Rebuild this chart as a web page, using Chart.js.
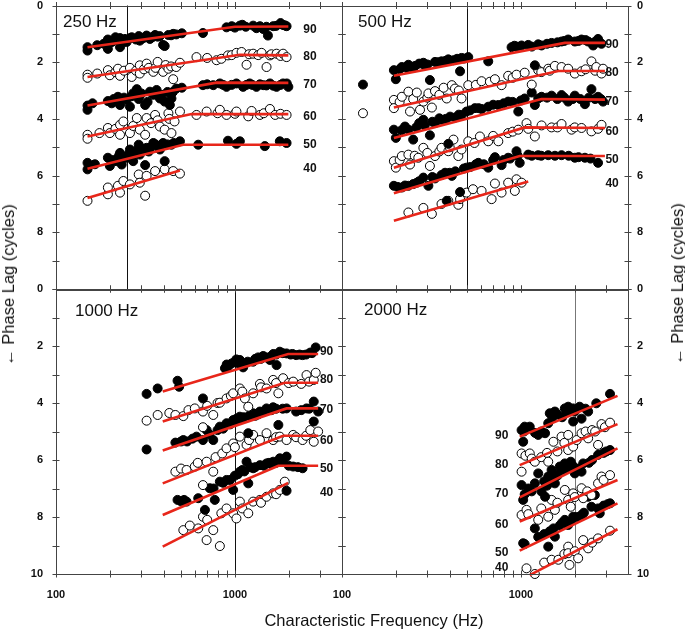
<!DOCTYPE html>
<html>
<head>
<meta charset="utf-8">
<script src="https://cdn.jsdelivr.net/npm/chart.js@4.4.1/dist/chart.umd.min.js"></script>
<style>
  body { margin: 0; background: #fff; }
  #wrap { position: relative; width: 685px; height: 630px; font-family: "Liberation Sans", Arial, sans-serif; color: #111; }
  canvas { position: absolute; left: 0; top: 0; }
  .ptitle { position: absolute; font-size: 17px; line-height: 20px; white-space: nowrap; }
  .atitle { position: absolute; font-size: 16.5px; line-height: 18px; white-space: nowrap; transform: translate(-50%, -50%); }
  .rot { transform: translate(-50%, -50%) rotate(-90deg); }
</style>
</head>
<body>
<div id="wrap">
  <canvas id="c250" width="685" height="630"></canvas>
  <canvas id="c500" width="685" height="630"></canvas>
  <canvas id="c1000" width="685" height="630"></canvas>
  <canvas id="c2000" width="685" height="630"></canvas>
  <div class="ptitle" style="left:63px;top:12px">250 Hz</div>
  <div class="ptitle" style="left:358px;top:12px">500 Hz</div>
  <div class="ptitle" style="left:75px;top:301px">1000 Hz</div>
  <div class="ptitle" style="left:364px;top:300px">2000 Hz</div>
  <div class="atitle" style="left:374px;top:620px">Characteristic Frequency (Hz)</div>
  <div class="atitle rot" style="left:8px;top:285px">← Phase Lag (cycles)</div>
  <div class="atitle rot" style="left:677px;top:284px">← Phase Lag (cycles)</div>
</div>
<script>
// -------- AXES -------- //
const xTicks = [100, 200, 300, 400, 500, 600, 700, 800, 900, 1000, 2000, 3000];
const xLabels = [100, 1000];
const levels = ['90', '80', '70', '60', '50', '40'];

// -------- 250 Hz PANEL -------- //  [frequency Hz, phase lag cycles]
const pts250_90 = [[150,1.47],[150,1.59],[170,1.4],[185,1.35],[195,1.2],[195,1.53],[205,1.29],[215,1.12],[228,1.15],[228,1.47],[243,1.18],[248,1.29],[260,1.15],[265,1.12],[280,1.2],[290,1.08],[294,1.24],[300,1.18],[310,1.14],[321,1.06],[335,1.18],[345,1.12],[358,1.04],[370,1.1],[380,1.08],[397,1.39],[405,1.43],[425,1.04],[440,1.05],[452,1.0],[470,1.02],[505,0.98],[663,0.97],[898,0.77],[960,0.73],[1000,0.78],[1066,0.71],[1100,0.68],[1150,0.75],[1265,0.71],[1320,0.8],[1380,0.73],[1440,0.83],[1500,0.75],[1530,1.06],[1637,0.73],[1700,0.72],[1800,0.62],[1860,0.69],[1900,0.7],[1945,0.73]];
const pts250_80 = [[150,2.44],[150,2.55],[170,2.4],[195,2.28],[200,2.46],[215,2.35],[222,2.23],[228,2.48],[240,2.3],[259,2.2],[265,2.52],[280,2.3],[294,2.11],[294,2.4],[310,2.25],[321,2.05],[330,2.2],[350,2.34],[360,2.2],[370,1.99],[397,2.34],[410,2.1],[425,2.23],[440,2.15],[452,2.6],[470,2.17],[493,2.02],[610,1.82],[700,1.85],[790,1.93],[840,1.88],[915,1.76],[960,1.75],[1020,1.67],[1090,1.64],[1162,2.09],[1200,1.72],[1265,1.7],[1350,1.75],[1410,1.67],[1503,2.17],[1570,1.76],[1600,1.72],[1710,1.7],[1800,1.78],[1860,1.7],[1945,1.82]];
const pts250_70 = [[150,3.53],[150,3.68],[160,3.45],[195,3.37],[205,3.45],[210,3.3],[222,3.22],[228,3.51],[240,3.25],[248,3.33],[259,3.57],[265,3.2],[270,3.1],[283,2.95],[290,3.3],[294,3.18],[300,3.1],[315,3.51],[325,3.4],[335,3.04],[350,3.15],[365,2.98],[381,3.28],[390,3.15],[405,3.39],[420,3.05],[433,3.51],[442,3.28],[450,3.05],[470,2.93],[505,2.9],[663,2.81],[700,2.78],[757,2.81],[824,2.75],[860,2.8],[898,2.87],[960,2.8],[1020,2.75],[1112,2.87],[1160,2.8],[1210,2.75],[1250,2.8],[1320,2.87],[1380,2.78],[1440,2.81],[1500,2.82],[1570,2.75],[1640,2.83],[1710,2.87],[1800,2.8],[1860,2.75],[1950,2.75],[1990,2.87]];
const pts250_60 = [[150,4.56],[150,4.7],[175,4.5],[195,4.32],[200,4.5],[215,4.35],[228,4.21],[228,4.56],[238,4.09],[259,4.5],[270,4.25],[283,3.97],[294,4.38],[315,4.56],[321,3.97],[340,4.15],[358,3.86],[370,4.05],[381,4.27],[405,4.38],[425,3.8],[430,4.0],[442,4.5],[460,4.09],[493,3.74],[610,3.86],[695,3.74],[800,3.8],[824,3.68],[898,3.86],[1000,3.82],[1020,3.74],[1188,3.91],[1240,3.72],[1380,3.86],[1450,3.8],[1570,3.65],[1680,3.86],[1800,3.82],[1945,3.86]];
const pts250_50 = [[150,5.55],[150,5.78],[165,5.6],[195,5.37],[200,5.66],[210,5.45],[217,5.49],[225,5.3],[228,5.2],[233,5.61],[240,5.35],[248,5.37],[255,5.25],[259,5.08],[262,5.35],[270,5.49],[275,5.2],[285,5.1],[290,4.91],[294,5.26],[305,5.05],[315,5.63],[321,5.02],[330,5.15],[340,5.0],[350,4.85],[360,4.9],[370,4.95],[381,5.08],[397,4.85],[405,5.49],[420,4.9],[442,4.91],[455,4.85],[493,4.79],[624,4.91],[915,4.77],[1020,4.88],[1066,4.79],[1470,4.96],[1783,4.79],[1945,4.85]];
const pts250_40 = [[150,6.89],[195,6.66],[195,6.42],[222,6.36],[228,6.6],[238,6.19],[259,6.31],[290,5.96],[294,6.25],[315,6.71],[321,6.01],[358,5.84],[405,5.78],[452,5.84],[493,5.93]];
const fit250_90 = [[150,1.47],[1000,0.75],[1990,0.74]];
const fit250_80 = [[150,2.52],[1066,1.74],[1990,1.76]];
const fit250_70 = [[150,3.53],[790,2.72],[1990,2.73]];
const fit250_60 = [[150,4.62],[573,3.83],[1990,3.83]];
const fit250_50 = [[150,5.76],[514,4.91],[1990,4.91]];
const fit250_40 = [[150,6.79],[493,5.82]];
const labelF250 = 2630;
const labelLag250 = [0.84, 1.82, 2.8, 3.92, 4.9, 5.77];

// -------- 500 Hz PANEL -------- //
const pts500_90 = [[131,2.79],[195,2.28],[200,2.6],[210,2.25],[216,2.17],[230,2.2],[235,2.09],[250,2.2],[256,2.13],[270,2.05],[285,2.02],[290,2.11],[300,2.08],[310,2.63],[331,1.99],[345,2.0],[360,1.97],[380,1.95],[393,1.9],[420,1.93],[440,1.88],[457,2.32],[466,1.85],[480,1.87],[508,1.82],[657,1.97],[887,1.47],[920,1.42],[950,1.45],[1009,1.41],[1099,1.39],[1150,1.45],[1197,2.11],[1250,1.37],[1305,1.41],[1400,1.35],[1485,1.32],[1600,1.3],[1688,1.27],[1750,1.25],[1838,1.2],[2003,1.27],[2100,1.25],[2183,1.2],[2300,1.22],[2377,1.27],[2535,1.41],[2600,1.28],[2700,1.18],[2750,1.3],[2823,1.35]];
const pts500_80 = [[131,3.8],[195,3.33],[195,3.62],[210,3.4],[216,3.22],[235,3.04],[240,3.74],[250,3.3],[262,3.07],[273,3.68],[285,3.39],[300,3.25],[304,3.1],[318,3.6],[331,3.02],[350,3.15],[370,2.9],[385,3.28],[411,2.81],[428,2.93],[450,3.0],[466,3.28],[508,2.81],[560,2.8],[603,2.67],[671,2.69],[716,2.6],[780,2.81],[849,2.48],[900,2.55],[945,2.44],[1050,2.37],[1150,2.79],[1250,2.28],[1300,2.35],[1422,2.23],[1450,2.3],[1549,2.13],[1688,2.17],[1838,2.23],[2003,2.4],[2183,2.32],[2300,2.25],[2480,1.97],[2600,2.3],[2640,2.17],[2823,2.4],[2880,2.23]];
const pts500_70 = [[195,4.38],[200,4.67],[215,4.4],[225,4.27],[235,4.38],[250,4.73],[260,4.3],[270,4.15],[285,4.03],[290,4.23],[310,4.58],[320,4.1],[331,4.15],[350,3.98],[360,4.03],[380,4.0],[393,4.88],[402,3.92],[430,3.95],[450,3.85],[466,3.86],[497,3.74],[520,3.7],[553,3.62],[580,3.62],[603,3.65],[657,3.57],[700,3.5],[748,3.51],[800,3.45],[849,3.39],[900,3.4],[967,3.74],[1000,3.35],[1050,3.28],[1150,3.07],[1197,3.51],[1250,3.28],[1305,3.22],[1400,3.25],[1485,3.18],[1600,3.3],[1688,3.16],[1750,3.25],[1838,3.39],[1950,3.3],[2003,3.18],[2150,3.3],[2280,3.48],[2400,3.25],[2480,2.95],[2600,3.3],[2700,3.22],[2800,3.3],[2880,3.39]];
const pts500_60 = [[195,5.49],[200,5.72],[210,5.45],[216,5.31],[235,5.26],[240,5.61],[255,5.3],[267,5.37],[285,5.02],[300,5.2],[310,5.66],[331,5.31],[350,5.15],[360,5.02],[393,5.14],[400,5.0],[420,4.73],[447,5.31],[466,5.08],[508,4.79],[550,4.85],[590,4.62],[657,4.79],[700,4.6],[748,4.79],[849,4.5],[900,4.45],[967,4.38],[1075,4.15],[1100,4.35],[1197,4.62],[1305,4.23],[1485,4.3],[1600,4.3],[1688,4.18],[1920,4.38],[2000,4.3],[2183,4.32],[2480,4.44],[2700,4.35],[2823,4.21]];
const pts500_50 = [[195,6.36],[205,6.4],[216,6.42],[225,6.35],[235,6.36],[250,6.3],[262,6.25],[270,6.2],[285,6.07],[304,6.36],[320,6.05],[331,6.1],[360,5.98],[377,5.9],[385,6.89],[400,5.9],[411,6.01],[430,5.85],[457,6.58],[480,5.75],[497,5.72],[520,5.7],[560,5.6],[578,5.55],[620,5.6],[657,5.72],[700,5.45],[716,5.35],[780,5.63],[800,5.45],[849,5.37],[870,5.4],[945,5.14],[960,5.3],[985,5.55],[1099,5.26],[1150,5.3],[1250,5.28],[1300,5.3],[1422,5.28],[1550,5.3],[1688,5.28],[1850,5.3],[2003,5.37],[2100,5.35],[2280,5.37],[2450,5.4],[2700,5.55]];
const pts500_40 = [[235,7.3],[285,7.14],[318,7.35],[360,7.0],[393,6.89],[447,7.03],[457,6.83],[497,6.6],[540,6.48],[603,6.54],[686,6.83],[716,6.28],[780,6.6],[849,6.25],[925,6.54],[945,6.13],[1009,6.25]];
const fit500_90 = [[195,2.48],[1760,1.32],[2950,1.32]];
const fit500_80 = [[195,3.6],[1620,2.31],[2950,2.31]];
const fit500_70 = [[195,4.67],[1305,3.3],[2950,3.32]];
const fit500_60 = [[195,5.72],[1050,4.3],[2950,4.32]];
const fit500_50 = [[195,6.62],[985,5.31],[2950,5.31]];
const fit500_40 = [[195,7.59],[1099,6.21]];
const labelF500 = 3235;
const labelLag500 = [1.39, 2.38, 3.39, 4.44, 5.45, 6.3];

// -------- 1000 Hz PANEL -------- //
const pts1000_90 = [[321,3.68],[370,3.49],[478,3.22],[488,3.43],[663,3.84],[880,2.78],[900,2.65],[920,2.7],[960,2.61],[1000,2.55],[1020,2.47],[1040,2.6],[1066,2.49],[1112,2.75],[1150,2.6],[1180,2.55],[1265,2.55],[1300,2.45],[1350,2.4],[1400,2.45],[1440,2.35],[1500,2.4],[1570,2.49],[1600,2.35],[1640,2.28],[1700,2.3],[1710,2.67],[1783,2.2],[1850,2.25],[1945,2.26],[2050,2.3],[2100,2.28],[2200,2.32],[2300,2.3],[2390,2.32],[2500,2.3],[2640,2.23],[2700,2.25],[2830,2.05]];
const pts1000_80 = [[321,4.62],[370,4.42],[430,4.35],[465,4.42],[515,4.46],[550,4.25],[597,4.19],[663,4.3],[663,4.85],[700,4.1],[757,4.42],[800,4.0],[824,3.99],[898,3.84],[950,3.75],[978,3.66],[1066,3.49],[1100,3.6],[1137,3.84],[1188,4.13],[1265,3.66],[1380,3.33],[1400,3.45],[1503,3.49],[1637,3.19],[1700,3.3],[1750,3.66],[1860,3.13],[2000,3.3],[2118,3.25],[2350,3.33],[2514,3.02],[2600,3.25],[2760,3.19],[2830,2.94]];
const pts1000_70 = [[321,5.63],[465,5.39],[500,5.35],[515,5.3],[540,5.35],[580,5.25],[610,5.18],[663,5.3],[695,4.95],[720,5.1],[757,5.3],[800,4.95],[824,4.83],[860,4.9],[880,4.8],[898,4.71],[940,4.75],[978,4.6],[1000,4.65],[1020,4.55],[1066,4.48],[1080,4.55],[1120,4.5],[1188,5.06],[1200,4.45],[1265,4.36],[1300,4.45],[1350,4.4],[1380,4.3],[1450,4.3],[1503,4.19],[1600,4.25],[1637,4.15],[1700,4.2],[1750,4.77],[1850,4.2],[1945,4.19],[2200,4.3],[2350,4.25],[2514,4.19],[2600,4.2],[2760,3.95],[2760,4.65],[2920,4.3]];
const pts1000_60 = [[465,6.41],[500,6.3],[537,6.35],[597,6.23],[620,6.1],[663,6.88],[695,6.06],[757,6.41],[780,5.9],[850,5.77],[898,5.59],[978,5.42],[1000,5.55],[1066,5.18],[1162,5.47],[1200,5.3],[1265,5.12],[1380,5.3],[1503,5.06],[1637,5.3],[1700,5.2],[1783,5.18],[1945,5.3],[2118,5.12],[2200,5.2],[2390,5.3],[2500,5.15],[2640,4.95],[2760,5.36],[2920,5.0]];
const pts1000_50 = [[478,7.4],[500,7.45],[520,7.4],[537,7.46],[624,7.34],[680,7.75],[724,6.99],[760,7.0],[772,7.4],[824,6.76],[860,6.8],[898,6.7],[940,6.7],[978,7.05],[1000,6.55],[1040,6.5],[1066,6.41],[1100,6.35],[1130,6.4],[1162,6.06],[1188,6.82],[1220,6.25],[1265,6.29],[1300,6.25],[1380,6.18],[1450,6.2],[1503,6.12],[1550,6.1],[1600,6.15],[1637,6.06],[1700,6.1],[1783,5.94],[1850,6.05],[1945,5.88],[1945,7.08],[2000,6.2],[2118,6.23],[2250,6.25],[2390,6.29]];
const pts1000_40 = [[515,8.46],[560,8.3],[624,8.4],[663,7.99],[695,8.81],[700,8.1],[757,8.46],[824,9.02],[840,7.87],[898,7.7],[978,7.87],[1020,8.05],[1066,7.46],[1100,7.7],[1188,7.87],[1265,7.46],[1380,7.4],[1400,7.5],[1503,7.29],[1637,7.17],[1700,7.2],[1783,7.05],[1900,6.76]];
const fit1000_90 = [[395,3.6],[1985,2.28],[2920,2.28]];
const fit1000_80 = [[395,4.65],[1900,3.29],[2920,3.29]];
const fit1000_70 = [[395,5.67],[1945,4.19],[2920,4.19]];
const fit1000_60 = [[395,6.82],[1860,5.15],[2920,5.15]];
const fit1000_50 = [[395,7.93],[1750,6.2],[2920,6.2]];
const fit1000_40 = [[395,9.04],[1985,6.8]];
const labelF1000 = 3254;
const labelLag1000 = [2.2, 3.19, 4.22, 5.32, 6.29, 7.15];

// -------- 2000 Hz PANEL -------- //
const pts2000_90 = [[1009,4.95],[1030,5.36],[1040,5.0],[1050,4.83],[1121,4.83],[1200,5.05],[1250,5.12],[1300,5.0],[1365,5.06],[1422,4.71],[1450,4.36],[1500,4.5],[1549,4.3],[1600,4.4],[1700,4.5],[1760,4.19],[1800,4.3],[1838,4.13],[1900,4.25],[1960,4.19],[1960,4.65],[2000,4.3],[2130,4.13],[2183,4.55],[2300,4.2],[2377,4.3],[2640,4.01],[3150,3.68]];
const pts2000_80 = [[1009,5.77],[1009,6.41],[1060,5.85],[1121,5.77],[1150,5.95],[1197,6.06],[1300,5.9],[1400,5.75],[1422,6.06],[1520,5.36],[1600,5.7],[1688,5.18],[1750,5.4],[1838,5.12],[1838,5.65],[1960,5.53],[2050,5.3],[2183,5.06],[2300,5.0],[2377,5.24],[2500,4.95],[2600,5.0],[2700,5.47],[2823,4.74],[2950,4.85],[3150,4.69]];
const pts2000_70 = [[1009,6.88],[1030,7.4],[1050,7.2],[1100,7.0],[1150,7.1],[1197,6.82],[1250,6.47],[1305,7.11],[1350,6.75],[1365,7.29],[1400,6.9],[1422,6.58],[1450,6.6],[1485,6.35],[1549,6.82],[1550,6.5],[1600,6.55],[1650,6.23],[1700,6.35],[1760,6.12],[1800,6.3],[1838,6.23],[1900,6.06],[1950,6.2],[2003,6.47],[2100,6.3],[2183,6.41],[2230,6.12],[2400,6.1],[2500,6.0],[2700,5.82],[2900,5.75],[3000,5.7],[3150,5.65]];
const pts2000_60 = [[1009,7.93],[1075,7.75],[1100,7.9],[1250,8.1],[1300,7.7],[1422,7.99],[1485,7.4],[1549,7.75],[1600,7.5],[1760,7.05],[1838,7.4],[1900,7.64],[1960,7.17],[2000,7.3],[2183,6.99],[2230,7.34],[2350,7.1],[2480,7.23],[2700,6.82],[2823,6.58],[2900,6.7],[3150,6.53]];
const pts2000_50 = [[1030,8.92],[1050,8.95],[1197,8.4],[1250,8.7],[1350,8.6],[1422,9.04],[1450,8.5],[1520,8.4],[1549,8.69],[1650,8.3],[1700,8.2],[1760,8.1],[1838,8.28],[1900,8.15],[1960,7.99],[2050,8.0],[2183,7.93],[2250,7.85],[2377,7.29],[2480,7.64],[2590,7.23],[2700,7.7],[2760,7.87],[2900,7.6],[3050,7.55],[3150,7.52]];
const pts2000_40 = [[1075,9.8],[1197,10.0],[1350,9.6],[1485,9.5],[1620,9.5],[1750,9.3],[1838,9.04],[1838,9.27],[1870,9.68],[2000,9.2],[2090,9.45],[2230,8.81],[2377,9.1],[2500,8.9],[2700,8.75],[3150,8.48]];
const fit2000_90 = [[985,5.18],[3468,3.75]];
const fit2000_80 = [[985,6.18],[3468,4.74]];
const fit2000_70 = [[985,7.31],[3468,5.59]];
const fit2000_60 = [[985,8.16],[3468,6.7]];
const fit2000_50 = [[985,9.18],[3468,7.52]];
const fit2000_40 = [[1121,10.04],[3468,8.43]];
const labelF2000 = 781;
const labelLag2000 = [5.16, 6.18, 7.18, 8.28, 9.25, 9.77];

// -------- DRAWING -------- //
const RED = 'rgb(232, 38, 26)';
const FONT = '"Liberation Sans", Arial, sans-serif';
const W = 685, H = 630;

// frame, crossing ticks, CF marker line and level labels
const panelPlugin = {
  id: 'panel',
  beforeDatasetsDraw(chart, args, o) {
    const ctx = chart.ctx, a = chart.chartArea;
    const px = chart.scales.x.getPixelForValue(o.cf);
    ctx.save();
    ctx.strokeStyle = o.cfColor;
    ctx.lineWidth = 1;
    ctx.beginPath();
    ctx.moveTo(Math.round(px) + 0.5, a.top);
    ctx.lineTo(Math.round(px) + 0.5, a.bottom);
    ctx.stroke();
    ctx.restore();
  },
  afterDraw(chart, args, o) {
    const ctx = chart.ctx, a = chart.chartArea;
    const xs = chart.scales.x, ys = chart.scales.y;
    ctx.save();
    ctx.strokeStyle = '#444';
    ctx.lineWidth = 1;
    ctx.strokeRect(Math.round(a.left) + 0.5, Math.round(a.top) + 0.5, Math.round(a.right - a.left), Math.round(a.bottom - a.top));
    ctx.beginPath();
    xTicks.forEach(v => {
      const p = Math.round(xs.getPixelForValue(v)) + 0.5;
      ctx.moveTo(p, a.top - 3.5); ctx.lineTo(p, a.top + 3.5);
      ctx.moveTo(p, a.bottom - 3.5); ctx.lineTo(p, a.bottom + 3.5);
    });
    for (let v = 0; v <= 10; v++) {
      const p = Math.round(ys.getPixelForValue(v)) + 0.5;
      ctx.moveTo(a.left - 3.5, p); ctx.lineTo(a.left + 3.5, p);
      ctx.moveTo(a.right - 3.5, p); ctx.lineTo(a.right + 3.5, p);
    }
    ctx.stroke();
    ctx.fillStyle = '#111';
    ctx.font = 'bold 12px ' + FONT;
    ctx.textAlign = 'center';
    ctx.textBaseline = 'middle';
    levels.forEach((lv, i) => {
      ctx.fillText(lv, xs.getPixelForValue(o.labelF), ys.getPixelForValue(o.labelLag[i]));
    });
    ctx.restore();
  }
};

function makePanel(id, p) {
  const datasets = [];
  p.fits.forEach(f => datasets.push({
    data: f.map(d => ({x: d[0], y: d[1]})),
    showLine: true, borderColor: RED, borderWidth: 2.6,
    pointRadius: 0, clip: false
  }));
  p.pts.forEach((s, i) => {
    const filled = i % 2 === 0;
    datasets.push({
      data: s.map(d => ({x: d[0], y: d[1]})),
      pointRadius: 4.5,
      pointBackgroundColor: filled ? '#000' : '#fff',
      pointBorderColor: '#000',
      pointBorderWidth: 1,
      clip: false
    });
  });

  const a = p.area;
  const yW = p.yLeft ? a.left : W - a.right;
  const xH = p.showX ? 30 : 0;

  return new Chart(document.getElementById(id), {
    type: 'scatter',
    data: { datasets },
    plugins: [panelPlugin],
    options: {
      responsive: false,
      animation: false,
      devicePixelRatio: 1,
      layout: {
        padding: {
          left: p.yLeft ? 0 : a.left,
          right: p.yLeft ? W - a.right : 0,
          top: a.top,
          bottom: H - a.bottom - xH
        }
      },
      scales: {
        x: {
          type: 'logarithmic', min: 100, max: 3970,
          display: p.showX,
          afterBuildTicks: s => { s.ticks = xTicks.map(v => ({value: v})); },
          afterFit: s => { s.height = xH; s.paddingLeft = 0; s.paddingRight = 0; },
          grid: { display: false, drawTicks: false },
          border: { display: false },
          ticks: {
            autoSkip: false, maxRotation: 0, padding: 14, color: '#111',
            font: { family: FONT, size: 11, weight: 'bold' },
            callback: v => xLabels.includes(v) ? String(v) : ''
          }
        },
        y: {
          type: 'linear', position: p.yLeft ? 'left' : 'right',
          min: 0, max: 10, reverse: true,
          afterFit: s => { s.width = yW; s.paddingTop = 0; s.paddingBottom = 0; },
          grid: { display: false, drawTicks: false },
          border: { display: false },
          ticks: {
            stepSize: 1, autoSkip: false, color: '#111',
            padding: p.yLeft ? 13 : 9,
            font: { family: FONT, size: 11, weight: 'bold' },
            callback: v => (v % 2 === 0 && (p.bottom || v < 10)) ? String(v) : ''
          }
        }
      },
      plugins: {
        legend: { display: false },
        tooltip: { enabled: false },
        panel: { cf: p.cf, cfColor: p.cfColor, labelF: p.labelF, labelLag: p.labelLag }
      }
    }
  });
}

makePanel('c250', {
  cf: 250, cfColor: '#111', yLeft: true, showX: false, bottom: false,
  area: {left: 56, top: 3, right: 342, bottom: 289},
  pts: [pts250_90, pts250_80, pts250_70, pts250_60, pts250_50, pts250_40],
  fits: [fit250_90, fit250_80, fit250_70, fit250_60, fit250_50, fit250_40],
  labelF: labelF250, labelLag: labelLag250
});
makePanel('c500', {
  cf: 500, cfColor: '#111', yLeft: false, showX: false, bottom: false,
  area: {left: 342, top: 3, right: 628, bottom: 289},
  pts: [pts500_90, pts500_80, pts500_70, pts500_60, pts500_50, pts500_40],
  fits: [fit500_90, fit500_80, fit500_70, fit500_60, fit500_50, fit500_40],
  labelF: labelF500, labelLag: labelLag500
});
makePanel('c1000', {
  cf: 1000, cfColor: '#111', yLeft: true, showX: true, bottom: true,
  area: {left: 56, top: 289, right: 342, bottom: 574},
  pts: [pts1000_90, pts1000_80, pts1000_70, pts1000_60, pts1000_50, pts1000_40],
  fits: [fit1000_90, fit1000_80, fit1000_70, fit1000_60, fit1000_50, fit1000_40],
  labelF: labelF1000, labelLag: labelLag1000
});
makePanel('c2000', {
  cf: 2000, cfColor: '#777', yLeft: false, showX: true, bottom: true,
  area: {left: 342, top: 289, right: 628, bottom: 574},
  pts: [pts2000_90, pts2000_80, pts2000_70, pts2000_60, pts2000_50, pts2000_40],
  fits: [fit2000_90, fit2000_80, fit2000_70, fit2000_60, fit2000_50, fit2000_40],
  labelF: labelF2000, labelLag: labelLag2000
});
</script>
</body>
</html>
